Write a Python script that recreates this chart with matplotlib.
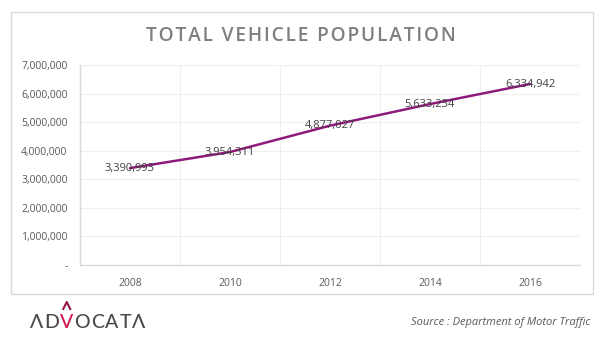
import matplotlib.pyplot as plt
from matplotlib.lines import Line2D
from matplotlib.patches import Rectangle
from matplotlib.ticker import FuncFormatter

years = ["2008", "2010", "2012", "2014", "2016"]
vehicles = [3390993, 3954311, 4877027, 5633234, 6334942]
y_ticks = [0, 1000000, 2000000, 3000000, 4000000, 5000000, 6000000, 7000000]

W, H = 602, 345
fig = plt.figure(figsize=(W / 100, H / 100), dpi=100)
fig.patch.set_facecolor("white")

# outer chart frame
fig.patches.append(Rectangle((11 / W, 1 - 294 / H), 582 / W, 282 / H,
                             transform=fig.transFigure, fill=False,
                             edgecolor="#d9d9d9", linewidth=1.0))

ax = fig.add_axes([80 / W, 1 - 265 / H, 500 / W, 200 / H])
x = list(range(len(years)))
ax.plot(x, vehicles, color="#8e1a7c", linewidth=1.8, solid_capstyle="round")

for xi, v in zip(x, vehicles):
    ax.text(xi, v, f"{v:,}", ha="center", va="center", fontsize=8,
            color="#404040", family="Open Sans")

ax.set_xlim(-0.5, len(years) - 0.5)
ax.set_ylim(0, 7000000)
ax.set_yticks(y_ticks)
ax.yaxis.set_major_formatter(FuncFormatter(lambda v, p: "-" if v == 0 else f"{int(v):,}"))
ax.set_xticks(x)
ax.set_xticklabels(years)

# vertical gridlines sit between categories
for b in [i + 0.5 for i in range(len(years) - 1)] + [len(years) - 0.5]:
    ax.axvline(b, color="#efefef", linewidth=0.8, zorder=0)
ax.grid(axis="y", color="#efefef", linewidth=0.8, zorder=0)
ax.set_axisbelow(True)

for s in ["top", "right"]:
    ax.spines[s].set_visible(False)
for s in ["left", "bottom"]:
    ax.spines[s].set_color("#d9d9d9")
    ax.spines[s].set_linewidth(1.0)
ax.tick_params(length=0, labelsize=7.5, colors="#595959")
ax.tick_params(axis="x", pad=9)
ax.tick_params(axis="y", pad=9)
for lab in ax.get_xticklabels() + ax.get_yticklabels():
    lab.set_family("Open Sans")

title = "\u200a".join("TOTAL VEHICLE POPULATION")
fig.text(0.5, 1 - 36 / H, title, ha="center", va="center", fontsize=13.8,
         fontweight="semibold", color="#7f7f7f", family="Open Sans")

# logo
letters = ["\u039b", "D", "V", "O", "C", "A", "T", "\u039b"]
lx = 30
for ch in letters:
    col = "#d1184e" if ch == "V" else "#4a4a4a"
    t = fig.text(lx / W, 1 - 322 / H, ch, ha="left", va="center", fontsize=14,
                 color=col, family="Lato", fontweight="medium")
    fig.canvas.draw()
    bb = t.get_window_extent()
    if ch == "V":
        cx = (bb.x0 + bb.x1) / 2
        fig.add_artist(Line2D([(cx - 3.5) / W, cx / W, (cx + 3.5) / W],
                              [1 - 309 / H, 1 - 302 / H, 1 - 309 / H],
                              transform=fig.transFigure, color="#8e1a4c",
                              linewidth=1.5))
    lx = bb.x1 + 1.0

fig.text(590 / W, 1 - 322 / H, "Source : Department of Motor Traffic", ha="right",
         va="center", fontsize=8, style="italic", color="#595959", family="Open Sans")

fig.savefig("out.png", dpi=100, facecolor="white")
